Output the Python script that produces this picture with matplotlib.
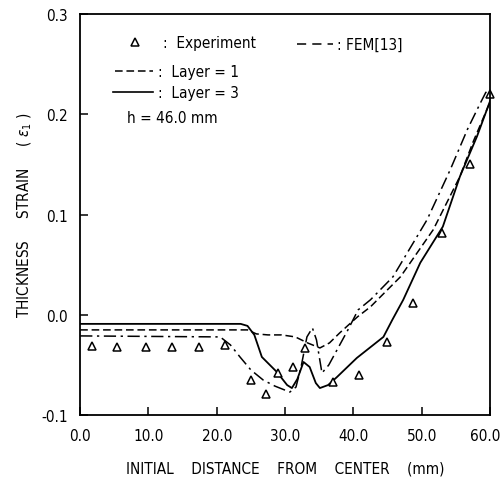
import matplotlib
matplotlib.use("Agg")
import matplotlib.pyplot as plt
from matplotlib.transforms import ScaledTranslation

plt.rcParams['font.family'] = ['DejaVu Sans']
plt.rcParams['font.stretch'] = 'condensed'
plt.rcParams['mathtext.fontset'] = 'dejavusans'

# 实验点
exp_x = [1.8, 5.4, 9.7, 13.5, 17.4, 21.2, 25.0, 27.2, 29.0, 31.2, 32.9, 37.0, 40.8, 44.9, 48.8, 53.0, 57.1, 60.0]
exp_y = [-0.031, -0.032, -0.032, -0.032, -0.032, -0.030, -0.065, -0.079, -0.058, -0.052, -0.033, -0.067, -0.060, -0.027, 0.012, 0.082, 0.150, 0.220]

# Layer = 1 (虚线)
l1_x = [0, 24.5, 25.8, 27.5, 29.5, 31.5, 33.3, 35.1, 36.5, 38.0, 40.6, 42.5, 46.9, 51.7, 55.6, 57.5, 60.0]
l1_y = [-0.015, -0.015, -0.019, -0.020, -0.020, -0.022, -0.028, -0.033, -0.028, -0.018, -0.002, 0.008, 0.038, 0.085, 0.138, 0.172, 0.212]

# Layer = 3 (实线)
l3_x = [0, 23.5, 24.5, 25.5, 26.6, 28.8, 30.3, 31.0, 31.8, 32.7, 33.6, 34.5, 35.1, 36.3, 37.6, 40.5, 44.4, 45.7, 47.3, 49.8, 53.1, 55.6, 58.1, 60.0]
l3_y = [-0.009, -0.009, -0.011, -0.020, -0.042, -0.057, -0.070, -0.073, -0.064, -0.047, -0.052, -0.068, -0.073, -0.070, -0.062, -0.043, -0.022, -0.005, 0.015, 0.052, 0.088, 0.138, 0.178, 0.213]

# FEM[13]
fem_x = [0, 20.5, 22.0, 23.4, 25.0, 26.8, 28.5, 30.7, 31.6, 32.4, 33.2, 34.0, 34.6, 35.4, 36.4, 37.6, 39.2, 40.7, 42.5, 45.8, 50.8, 54.2, 56.7, 58.5, 59.4, 60.0]
fem_y = [-0.021, -0.022, -0.030, -0.042, -0.055, -0.065, -0.071, -0.077, -0.072, -0.050, -0.022, -0.013, -0.025, -0.058, -0.050, -0.035, -0.015, 0.005, 0.015, 0.038, 0.095, 0.145, 0.185, 0.210, 0.222, 0.218]

xticks = [0, 10, 20, 30, 40, 50, 60]
xtick_labels = ['0.0', '10.0', '20.0', '30.0', '40.0', '50.0', '60.0']
yticks = [-0.1, 0.0, 0.1, 0.2, 0.3]
ytick_labels = ['-0.1', '0.0', '0.1', '0.2', '0.3']

fig = plt.figure(figsize=(5.01, 4.85), dpi=100)
ax = fig.add_axes([0.16, 0.142, 0.818, 0.827])

fem_style = (0, (8, 3, 1.5, 3))
l1_style = (0, (5, 2.5))

ax.plot(l3_x, l3_y, color='black', lw=1.3)
ax.plot(l1_x, l1_y, color='black', lw=1.1, linestyle=l1_style)
ax.plot(fem_x, fem_y, color='black', lw=1.1, linestyle=fem_style)
ax.plot(exp_x, exp_y, linestyle='none', marker='^', markersize=5.5,
        markerfacecolor='white', markeredgecolor='black', markeredgewidth=1.1, clip_on=False)

# 图例 (手工)
fs = 11
ax.plot([8.05], [0.272], linestyle='none', marker='^', markersize=5.5,
        markerfacecolor='white', markeredgecolor='black', markeredgewidth=1.1)
ax.text(12.2, 0.272, ':  Experiment', fontsize=fs, va='center')
ax.plot([31.8, 37.0], [0.270, 0.270], color='black', lw=1.1, linestyle=(0, (6, 4)))
ax.text(37.6, 0.270, ': FEM[13]', fontsize=fs, va='center')
ax.plot([5.1, 10.7], [0.243, 0.243], color='black', lw=1.1, linestyle=l1_style)
ax.text(11.4, 0.243, ':  Layer = 1', fontsize=fs, va='center')
ax.plot([4.8, 10.7], [0.222, 0.222], color='black', lw=1.2)
ax.text(11.4, 0.222, ':  Layer = 3', fontsize=fs, va='center')
ax.text(6.9, 0.197, 'h = 46.0 mm', fontsize=fs, va='center')

ax.set_xlim(0, 60)
ax.set_ylim(-0.1, 0.3)
ax.set_xticks(xticks)
ax.set_xticklabels(xtick_labels, fontsize=11)
ax.set_yticks(yticks)
ax.set_yticklabels(ytick_labels, fontsize=11)
ax.tick_params(direction='in', length=6, width=1.1, top=False, right=False, pad=9)
last = ax.get_xticklabels()[-1]
last.set_ha('right')
last.set_transform(last.get_transform() + ScaledTranslation(10 / 100, 0, fig.dpi_scale_trans))
for s in ax.spines.values():
    s.set_linewidth(1.3)

ax.set_xlabel('INITIAL    DISTANCE    FROM    CENTER    (mm)', fontsize=11, labelpad=13)
ax.set_ylabel('THICKNESS     STRAIN     ( $\\varepsilon_1$ )', fontsize=11, labelpad=5)

fig.savefig('out.png', dpi=100)
